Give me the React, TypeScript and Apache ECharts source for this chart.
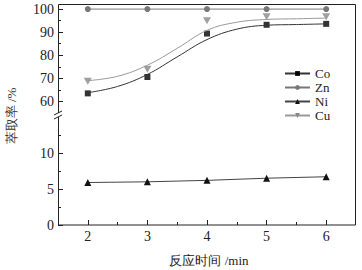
import React, { useEffect, useRef } from "react";
import * as echarts from "echarts";

const times = [2, 3, 4, 5, 6];
const coValues = [63.5, 70.6, 89.4, 93.2, 93.6];
const znValues = [100, 100, 100, 100, 100];
const niValues = [5.9, 6.0, 6.2, 6.5, 6.7];
const cuValues = [68.7, 73.9, 94.9, 96.7, 96.7];

const fitTimes = [2, 2.5, 3, 3.5, 4, 4.5, 5, 5.5, 6];
const coFit = [63.8, 66.5, 71.7, 79.3, 86.8, 91.3, 93.0, 93.3, 93.6];
const cuFit = [69.0, 70.9, 75.7, 83.0, 90.8, 94.3, 95.5, 95.8, 96.1];

const xMajor = [2, 3, 4, 5, 6];
const xMinor = [2.5, 3.5, 4.5, 5.5];
const yUpperMajor = [60, 70, 80, 90, 100];
const yUpperMinor = [65, 75, 85, 95];
const yLowerMajor = [0, 5, 10];
const yLowerMinor = [2.5, 7.5, 12.5];

const legendNames = ["Co", "Zn", "Ni", "Cu"];
const xName = "反应时间 /min";
const yName = "萃取率 /%";

const downTri = "path://M0,0 L10,0 L5,9 Z";
const serif = "Liberation Serif";

const pairs = (xs: number[], ys: number[]) => xs.map((x, i) => [x, ys[i]]);

export default function App() {
  const ref = useRef<HTMLDivElement>(null);
  useEffect(() => {
    if (!ref.current) return;
    const chart = echarts.init(ref.current, null, { renderer: "svg" });
    const labelStyle = { fontFamily: serif, fontSize: 14, color: "#222" };
    const tickLine = { color: "#222", width: 1 };
    chart.setOption({
      animation: false,
      backgroundColor: "#fff",
      grid: [
        { left: 58, right: 6, top: 4, height: 109, outerBoundsMode: "none" },
        { left: 58, right: 6, top: 117, height: 108, outerBoundsMode: "none" },
      ],
      xAxis: [
        { type: "value", gridIndex: 0, min: 1.5, max: 6.5, show: false },
        {
          type: "value", gridIndex: 1, min: 1.5, max: 6.5, position: "bottom",
          axisLine: { show: false }, splitLine: { show: false },
          axisTick: { inside: true, length: 5, lineStyle: tickLine, customValues: xMajor },
          axisLabel: { ...labelStyle, margin: 4, customValues: xMajor },
        },
        {
          type: "value", gridIndex: 1, min: 1.5, max: 6.5, position: "bottom",
          axisLine: { show: false }, splitLine: { show: false },
          axisTick: { inside: true, length: 3, lineStyle: tickLine, customValues: xMinor },
          axisLabel: { show: false },
        },
      ],
      yAxis: [
        {
          type: "value", gridIndex: 0, min: 55, max: 102.2, position: "left",
          axisLine: { show: false }, splitLine: { show: false },
          axisTick: { inside: true, length: 5, lineStyle: tickLine, customValues: yUpperMajor },
          axisLabel: { ...labelStyle, margin: 4, customValues: yUpperMajor },
        },
        {
          type: "value", gridIndex: 0, min: 55, max: 102.2, position: "left",
          axisLine: { show: false }, splitLine: { show: false },
          axisTick: { inside: true, length: 3, lineStyle: tickLine, customValues: yUpperMinor },
          axisLabel: { show: false },
        },
        {
          type: "value", gridIndex: 1, min: 0, max: 15, position: "left",
          axisLine: { show: false }, splitLine: { show: false },
          axisTick: { inside: true, length: 5, lineStyle: tickLine, customValues: yLowerMajor },
          axisLabel: { ...labelStyle, margin: 4, customValues: yLowerMajor },
        },
        {
          type: "value", gridIndex: 1, min: 0, max: 15, position: "left",
          axisLine: { show: false }, splitLine: { show: false },
          axisTick: { inside: true, length: 3, lineStyle: tickLine, customValues: yLowerMinor },
          axisLabel: { show: false },
        },
      ],
      legend: {
        data: legendNames,
        orient: "vertical",
        left: 279,
        top: 62,
        itemWidth: 25,
        itemHeight: 6,
        itemGap: 1,
        textStyle: { ...labelStyle, fontSize: 13, lineHeight: 13 },
      },
      series: [
        {
          name: "Co", type: "line", xAxisIndex: 0, yAxisIndex: 0,
          data: pairs(fitTimes, coFit), smooth: 0.4, symbol: "rect", showSymbol: false,
          lineStyle: { color: "#333", width: 1 }, itemStyle: { color: "#000" },
        },
        {
          name: "Zn", type: "line", xAxisIndex: 0, yAxisIndex: 0,
          data: pairs(times, znValues), symbol: "circle", symbolSize: 6,
          lineStyle: { color: "#777", width: 1 }, itemStyle: { color: "#777" },
        },
        {
          name: "Ni", type: "line", xAxisIndex: 1, yAxisIndex: 2,
          data: pairs(times, niValues), symbol: "triangle", symbolSize: 7,
          lineStyle: { color: "#444", width: 1 }, itemStyle: { color: "#111" },
        },
        {
          name: "Cu", type: "line", xAxisIndex: 0, yAxisIndex: 0,
          data: pairs(fitTimes, cuFit), smooth: 0.4, symbol: downTri, showSymbol: false,
          lineStyle: { color: "#999", width: 1 }, itemStyle: { color: "#888" },
        },
        {
          name: "Co点", type: "scatter", xAxisIndex: 0, yAxisIndex: 0,
          data: pairs(times, coValues), symbol: "rect", symbolSize: 6,
          itemStyle: { color: "#000" },
        },
        {
          name: "Cu点", type: "scatter", xAxisIndex: 0, yAxisIndex: 0,
          data: pairs(times, cuValues), symbol: downTri, symbolSize: [8, 7],
          itemStyle: { color: "#888" },
        },
      ],
      graphic: [
        {
          type: "rect", z: 10, silent: true,
          shape: { x: 58.5, y: 4.5, width: 297, height: 220.5 },
          style: { fill: "none", stroke: "#222", lineWidth: 1 },
        },
        {
          type: "rect", z: 11, silent: true,
          shape: { x: 55, y: 113, width: 7, height: 4 },
          style: { fill: "#fff" },
        },
        {
          type: "line", z: 12, silent: true,
          shape: { x1: 54, y1: 115, x2: 62, y2: 111 },
          style: { stroke: "#222", lineWidth: 1 },
        },
        {
          type: "line", z: 12, silent: true,
          shape: { x1: 54, y1: 119, x2: 62, y2: 115 },
          style: { stroke: "#222", lineWidth: 1 },
        },
        {
          type: "text", z: 12, x: 209, y: 260,
          style: { text: xName, fontFamily: serif, fontSize: 13, fill: "#222", align: "center", verticalAlign: "middle" },
        },
        {
          type: "text", z: 12, x: 11, y: 116, rotation: Math.PI / 2,
          style: { text: yName, fontFamily: serif, fontSize: 13, fill: "#333", align: "center", verticalAlign: "middle" },
        },
      ],
    });
    return () => chart.dispose();
  }, []);
  return (
    <div
      ref={ref}
      style={{ position: "fixed", left: 0, top: 0, width: 362, height: 270 }}
    />
  );
}
